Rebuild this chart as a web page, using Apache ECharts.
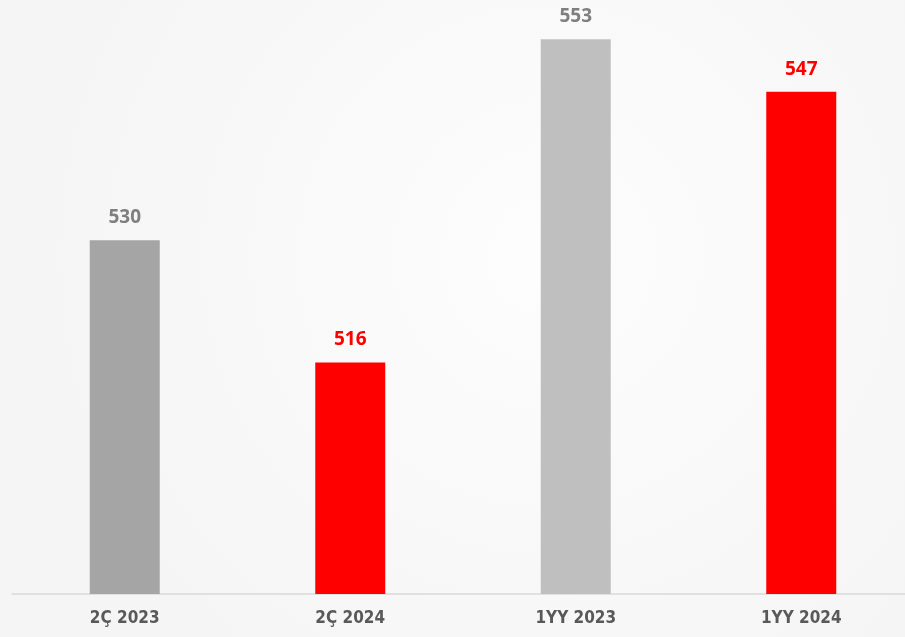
<!DOCTYPE html>
<html>
<head>
<meta charset="utf-8">
<script src="https://cdn.jsdelivr.net/npm/echarts@6/dist/echarts.min.js"></script>
<style>
html,body{margin:0;padding:0;background:#f9f9f9;overflow:hidden;width:905px;height:637px;}
#c{width:914px;height:637px;}
</style>
</head>
<body>
<div id="c"></div>
<script>
const categories = ['2Ç 2023', '2Ç 2024', '1YY 2023', '1YY 2024'];
const values = [530, 516, 553, 547];
const barColors = ['#a5a5a5', '#ff0000', '#bfbfbf', '#ff0000'];
const labelColors = ['#7f7f7f', '#ff0000', '#7f7f7f', '#ff0000'];

const chart = echarts.init(document.getElementById('c'));
chart.setOption({
  backgroundColor: {
    type: 'radial', x: 0.6, y: 0.4, r: 0.8,
    colorStops: [{offset: 0, color: '#fdfdfd'}, {offset: 1, color: '#f5f5f5'}]
  },
  animation: false,
  grid: {left: 12, right: 0, top: 0, bottom: 43},
  xAxis: {
    type: 'category',
    data: categories,
    axisLine: {lineStyle: {color: '#d9d9d9', width: 1.5}},
    axisTick: {show: false},
    axisLabel: {
      color: '#595959', fontWeight: 'bold', fontSize: 17,
      fontFamily: 'Liberation Sans Narrow, DejaVu Sans Condensed, sans-serif',
      margin: 16
    }
  },
  yAxis: {
    type: 'value', min: 489.5, max: 557.5, show: false,
    splitLine: {show: false}
  },
  series: [{
    type: 'bar',
    barWidth: 70,
    data: values.map((v, i) => ({
      value: v,
      itemStyle: {color: barColors[i]},
      label: {color: labelColors[i]}
    })),
    label: {
      show: true, position: 'top', distance: 13,
      fontWeight: 'bold', fontSize: 19,
      fontFamily: 'Open Sans, sans-serif'
    }
  }]
});
</script>
</body>
</html>
